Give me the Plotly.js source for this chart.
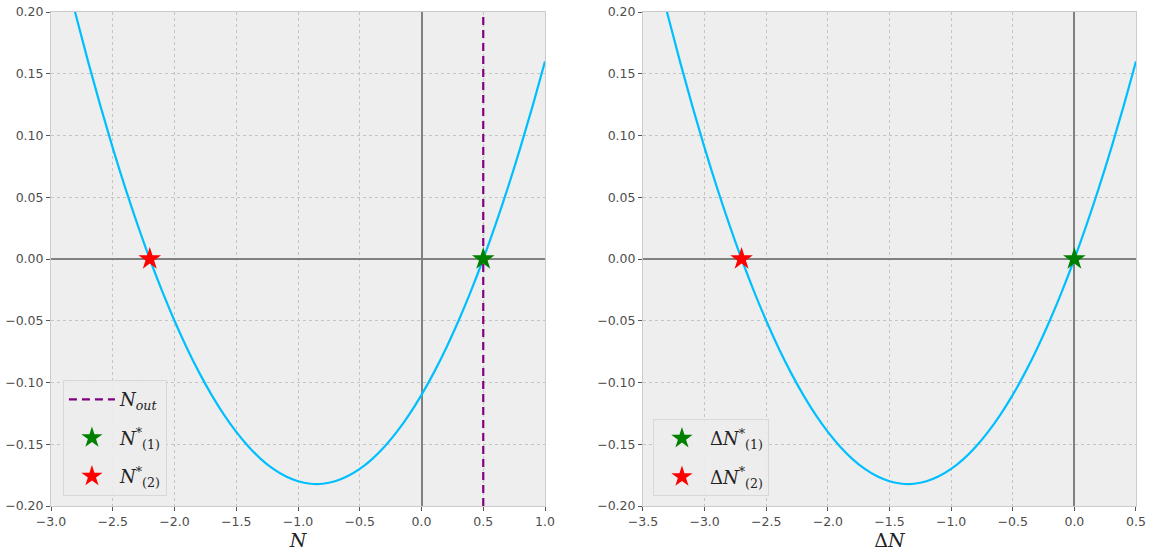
<!DOCTYPE html>
<html>
<head>
<meta charset="utf-8">
<script src="https://cdn.plot.ly/plotly-3.0.1.min.js"></script>
<style>html,body{margin:0;padding:0;background:#fff;}#chart{width:1153px;height:551px;}</style>
</head>
<body>
<div id="chart"></div>
<script>
// Curve samples (left panel: N, right panel: ΔN)
const nValues = [-2.9,-2.8,-2.7,-2.6,-2.5,-2.4,-2.3,-2.2,-2.1,-2.0,-1.9,-1.8,-1.7,-1.6,-1.5,-1.4,-1.3,-1.2,-1.1,-1.0,-0.9,-0.8,-0.7,-0.6,-0.5,-0.4,-0.3,-0.2,-0.1,0.0,0.1,0.2,0.3,0.4,0.5,0.6,0.7,0.8,0.9,1.0];
const deltaNValues = [-3.4,-3.3,-3.2,-3.1,-3.0,-2.9,-2.8,-2.7,-2.6,-2.5,-2.4,-2.3,-2.2,-2.1,-2.0,-1.9,-1.8,-1.7,-1.6,-1.5,-1.4,-1.3,-1.2,-1.1,-1.0,-0.9,-0.8,-0.7,-0.6,-0.5,-0.4,-0.3,-0.2,-0.1,0.0,0.1,0.2,0.3,0.4,0.5];
const fValues = [0.238,0.198,0.160,0.124,0.090,0.058,0.028,0.000,-0.026,-0.050,-0.072,-0.092,-0.110,-0.126,-0.140,-0.152,-0.162,-0.170,-0.176,-0.180,-0.182,-0.182,-0.180,-0.176,-0.170,-0.162,-0.152,-0.140,-0.126,-0.110,-0.092,-0.072,-0.050,-0.026,0.000,0.028,0.058,0.090,0.124,0.160];
const nOut = 0.5;
const rootsN = [0.5, -2.2];        // N*(1), N*(2)
const rootsDeltaN = [0.0, -2.7];   // ΔN*(1), ΔN*(2)
const rootY = [0, 0];
const yLimits = [-0.2, 0.2];
const xLimitsLeft = [-3, 1];
const xLimitsRight = [-3.5, 0.5];
const tickVals = [-0.20,-0.15,-0.10,-0.05,0.00,0.05,0.10,0.15,0.20];
const tickText = ['\u22120.20','\u22120.15','\u22120.10','\u22120.05','0.00','0.05','0.10','0.15','0.20'];
const xTicksLeft = [-3,-2.5,-2,-1.5,-1,-0.5,0,0.5,1];
const xTicksRight = [-3.5,-3,-2.5,-2,-1.5,-1,-0.5,0,0.5];
const fmt = v => (v < 0 ? '\u2212' : '') + Math.abs(v).toFixed(1);

const curveColor = '#00bfff';
const traces = [
  {x: nValues, y: fValues, xaxis: 'x', yaxis: 'y', mode: 'lines', line: {color: curveColor, width: 2.2, shape: 'spline'}, showlegend: false, hoverinfo: 'skip'},
  {x: [nOut, nOut], y: yLimits, xaxis: 'x', yaxis: 'y', mode: 'lines', line: {color: '#800080', width: 2.2, dash: '8px,5px'}, name: '<i>N</i><sub><i>out</i></sub>', legend: 'legend', legendgroup: 'a'},
  {x: [rootsN[0]], y: [rootY[0]], xaxis: 'x', yaxis: 'y', mode: 'markers', marker: {symbol: 'star', size: 17, color: '#008000'}, name: '<i>N</i><sup>*</sup><sub>(1)</sub>', legend: 'legend', legendgroup: 'b'},
  {x: [rootsN[1]], y: [rootY[1]], xaxis: 'x', yaxis: 'y', mode: 'markers', marker: {symbol: 'star', size: 17, color: '#ff0000'}, name: '<i>N</i><sup>*</sup><sub>(2)</sub>', legend: 'legend', legendgroup: 'c'},
  {x: deltaNValues, y: fValues, xaxis: 'x2', yaxis: 'y2', mode: 'lines', line: {color: curveColor, width: 2.2, shape: 'spline'}, showlegend: false, hoverinfo: 'skip'},
  {x: [rootsDeltaN[0]], y: [rootY[0]], xaxis: 'x2', yaxis: 'y2', mode: 'markers', marker: {symbol: 'star', size: 17, color: '#008000'}, name: '\u0394<i>N</i><sup>*</sup><sub>(1)</sub>', legend: 'legend2', legendgroup: 'd'},
  {x: [rootsDeltaN[1]], y: [rootY[1]], xaxis: 'x2', yaxis: 'y2', mode: 'markers', marker: {symbol: 'star', size: 17, color: '#ff0000'}, name: '\u0394<i>N</i><sup>*</sup><sub>(2)</sub>', legend: 'legend2', legendgroup: 'e'}
];

const axisCommon = {
  showgrid: true, gridcolor: '#c4c4c4', griddash: 'dot', gridwidth: 1,
  zeroline: true, zerolinecolor: '#808080', zerolinewidth: 2,
  showline: true, mirror: true, linecolor: '#cccccc', linewidth: 1,
  ticks: 'outside', ticklen: 4, tickcolor: '#555', tickwidth: 1,
  tickfont: {family: 'DejaVu Sans', size: 12.5, color: '#4d4d4d'},
  fixedrange: true
};
const yAxisCommon = Object.assign({}, axisCommon, {range: yLimits, tickmode: 'array', tickvals: tickVals, ticktext: tickText});
const titleFont = {family: 'DejaVu Serif', size: 19, color: '#222'};

const legendCommon = {
  bgcolor: 'rgba(236,236,236,0.9)', bordercolor: '#d8d8d8', borderwidth: 1,
  font: {family: 'DejaVu Serif', size: 18, color: '#222'},
  xanchor: 'left', yanchor: 'bottom', tracegroupgap: 12, itemwidth: 46
};

const layout = {
  width: 1153, height: 551,
  margin: {l: 51, r: 17, t: 12, b: 45},
  paper_bgcolor: '#ffffff', plot_bgcolor: '#eeeeee',
  xaxis: Object.assign({}, axisCommon, {domain: [0, 0.4553], range: xLimitsLeft, anchor: 'y', tickmode: 'array', tickvals: xTicksLeft, ticktext: xTicksLeft.map(fmt), title: {text: '<i>N</i>', font: titleFont, standoff: 6}}),
  yaxis: Object.assign({}, yAxisCommon, {domain: [0, 1], anchor: 'x'}),
  xaxis2: Object.assign({}, axisCommon, {domain: [0.5456, 1], range: xLimitsRight, anchor: 'y2', tickmode: 'array', tickvals: xTicksRight, ticktext: xTicksRight.map(fmt), title: {text: '\u0394<i>N</i>', font: titleFont, standoff: 6}}),
  yaxis2: Object.assign({}, yAxisCommon, {domain: [0, 1], anchor: 'x2'}),
  legend: Object.assign({}, legendCommon, {x: 0.011, y: 0.02}),
  legend2: Object.assign({}, legendCommon, {x: 0.5548, y: 0.02}),
  showlegend: true
};

Plotly.newPlot('chart', traces, layout, {staticPlot: true, displayModeBar: false});
</script>
</body>
</html>
